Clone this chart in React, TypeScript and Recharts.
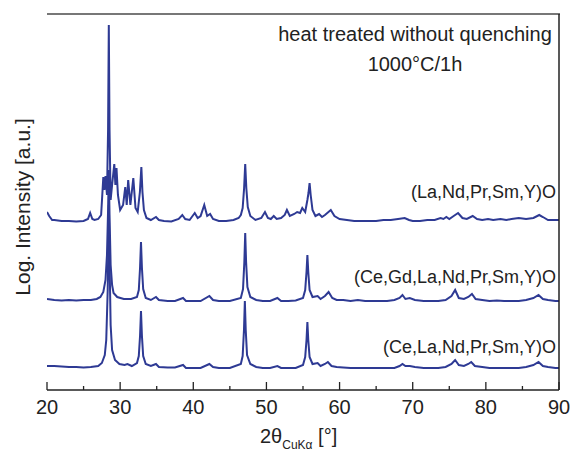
import React from 'react';
import { LineChart, Line, XAxis, YAxis } from 'recharts';

// 2θ (deg) vs. log intensity (arbitrary units, curves offset)
const seriesLaNdPrSmY: [number, number][] = [
  [20, 178], [20.3, 174], [20.7, 170], [21, 170], [22, 169], [23, 169], [24, 168.5], [25, 169], [25.6, 171], [25.9, 177], [26.2, 171],
  [26.5, 170], [27, 171], [27.4, 175], [27.7, 213], [27.85, 200], [28, 214], [28.2, 195], [28.35, 260], [28.45, 365], [28.55, 260],
  [28.7, 190], [28.9, 205], [29.2, 226], [29.35, 205], [29.5, 222], [29.7, 195], [30, 180], [30.4, 185], [30.7, 203], [30.9, 185],
  [31.1, 210], [31.4, 185], [31.8, 212], [32.1, 182], [32.4, 178], [32.7, 198], [32.9, 223], [33.05, 198], [33.25, 180], [33.6, 172],
  [34.2, 170], [34.9, 173], [35.3, 170], [36, 169], [37, 168.5], [38, 171], [38.5, 175], [38.9, 171], [39.5, 170], [40.2, 177],
  [40.6, 172], [41, 174], [41.5, 185], [41.9, 174], [42.3, 176], [42.7, 171], [43.5, 169], [44.5, 169], [45.5, 170], [46.2, 172],
  [46.5, 175], [46.75, 182], [46.95, 202], [47.1, 226], [47.25, 202], [47.45, 183], [47.8, 174], [48.5, 170], [49.3, 172], [49.8, 178],
  [50.2, 172], [50.6, 171], [51, 174], [51.4, 171], [52, 172], [52.5, 175], [52.8, 180], [53.2, 174], [53.8, 176], [54.2, 178],
  [54.6, 177], [54.9, 182], [55.3, 178], [55.6, 190], [55.75, 197], [55.9, 207], [56.05, 195], [56.3, 180], [56.7, 174], [57.2, 176],
  [57.6, 173], [58, 175], [58.8, 180], [59.3, 174], [60, 171], [61, 170], [62, 169], [63, 169], [64, 169], [65, 169],
  [66, 170], [67, 170], [68, 171], [68.9, 172], [69.5, 170], [70, 169], [71, 169], [72, 170], [73, 170], [73.8, 172],
  [74.2, 171], [74.6, 173], [75, 171], [75.6, 174], [76.2, 177], [76.8, 172], [77.4, 171], [78.2, 174], [78.8, 171], [79.5, 170],
  [80.3, 171], [81, 170], [82, 171], [82.8, 170], [83.5, 171], [84.5, 172], [85.5, 171], [86.5, 172], [87.3, 175], [87.8, 173],
  [88.5, 170], [89.3, 170], [90, 170],
];

const seriesCeGdLaNdPrSmY: [number, number][] = [
  [20, 91], [21, 90], [22, 89.5], [23, 90], [24, 89.5], [25, 90], [26, 90], [26.8, 91], [27.3, 93], [27.7, 98],
  [28.0, 110], [28.2, 135], [28.35, 180], [28.45, 220], [28.55, 175], [28.7, 125], [28.9, 105], [29.1, 97], [29.6, 93], [30.5, 91],
  [31.5, 91], [32.3, 93], [32.55, 100], [32.72, 122], [32.85, 148], [32.98, 122], [33.15, 101], [33.5, 92], [34.2, 90], [34.9, 93],
  [35.3, 90], [36.5, 89], [37.5, 89], [38.6, 92], [39, 89], [40, 89], [41, 89], [42.2, 94], [42.7, 90], [43.5, 89],
  [45, 89], [46.5, 92], [46.8, 101], [46.98, 128], [47.1, 157], [47.22, 128], [47.4, 103], [47.8, 93], [48.6, 90], [49.5, 89],
  [50.5, 89], [51.5, 92], [52, 89], [53, 89], [54, 89.5], [55.0, 92], [55.3, 100], [55.48, 118], [55.6, 135], [55.72, 118],
  [55.9, 100], [56.3, 93], [57, 94], [57.4, 91], [58, 94], [58.5, 98], [59, 92], [59.6, 90], [60.5, 90], [61.5, 89],
  [62.5, 90], [63.5, 89], [64.5, 89], [65.5, 89], [66.5, 89], [67.5, 90], [68.2, 92], [68.6, 95], [69, 91], [69.6, 92],
  [70.3, 90], [71.5, 89], [72.5, 89], [73.5, 89], [74.5, 90], [75.3, 94], [75.8, 100], [76.3, 92], [77, 91], [77.6, 93],
  [78.1, 96], [78.6, 91], [79.5, 90], [80.5, 89], [81.5, 89.5], [82.5, 89], [83.5, 89], [84.5, 89], [85.5, 90], [86.5, 92],
  [87.2, 95], [87.8, 91], [88.5, 90], [89.5, 89], [90, 89],
];

const seriesCeLaNdPrSmY: [number, number][] = [
  [20, 24], [21, 24], [22, 23.5], [23, 23], [24, 23], [25, 22.5], [26, 23], [27, 24], [27.5, 27], [27.9, 35],
  [28.1, 50], [28.3, 100], [28.45, 185], [28.55, 130], [28.7, 65], [28.9, 40], [29.3, 30], [29.9, 26], [30.6, 25], [31, 26],
  [31.6, 24], [32.3, 27], [32.55, 34], [32.72, 54], [32.85, 79], [32.98, 54], [33.15, 34], [33.5, 26], [34.2, 24], [34.9, 26],
  [35.3, 23], [36.5, 22.5], [37.5, 22.5], [38.6, 25], [39, 22], [40, 22], [41, 22], [42.2, 26], [42.7, 23], [43.5, 22],
  [45, 22], [46.5, 26], [46.75, 34], [46.93, 60], [47.05, 89], [47.17, 60], [47.35, 35], [47.8, 26], [48.6, 23], [49.5, 22],
  [50.5, 22], [51.5, 24], [52, 22], [53, 22], [54, 22], [55.0, 25], [55.3, 33], [55.48, 50], [55.6, 68], [55.72, 50],
  [55.9, 33], [56.3, 26], [57, 27], [57.4, 24], [58, 26], [58.4, 28], [58.9, 24], [59.6, 23], [60.5, 22.5], [61.5, 22],
  [62.5, 22], [63.5, 22], [64.5, 22], [65.5, 22], [66.5, 22], [67.5, 22], [68.2, 24], [68.6, 26], [69, 24], [69.6, 24],
  [70.3, 23], [71.5, 22], [72.5, 22], [73.5, 22], [74.5, 23], [75.3, 26], [75.8, 30], [76.3, 25], [77, 24], [77.6, 26],
  [78, 28], [78.5, 24], [79.5, 23], [80.5, 22], [81.5, 22], [82.5, 22], [83.5, 22], [84.5, 22], [85.5, 23], [86.5, 25],
  [87.2, 28], [87.8, 24], [88.5, 23], [89.5, 22], [90, 22],
];

const xTicks = [20, 25, 30, 35, 40, 45, 50, 55, 60, 65, 70, 75, 80, 85, 90];
const xLabelTicks = [20, 30, 40, 50, 60, 70, 80, 90];
const sampleNames = ['(La,Nd,Pr,Sm,Y)O', '(Ce,Gd,La,Nd,Pr,Sm,Y)O', '(Ce,La,Nd,Pr,Sm,Y)O'];

const toRows = (s: [number, number][]) => s.map(([x, y]) => ({ x, y }));
const dataTop = toRows(seriesLaNdPrSmY);
const dataMid = toRows(seriesCeGdLaNdPrSmY);
const dataBot = toRows(seriesCeLaNdPrSmY);

const FONT = '"Liberation Sans", Arial, Helvetica, sans-serif';
const LINE = '#2E3A94';
const INK = '#222';

const BottomTick = (props: any) => {
  const { x, y, payload } = props;
  const v = payload.value;
  const major = xLabelTicks.includes(v);
  return (
    <g>
      <line x1={x} x2={x} y1={y} y2={y - (major ? 8 : 4)} stroke={INK} strokeWidth={1.3} />
      {major && (
        <text x={x} y={y + 24} textAnchor="middle" fontSize={20} fontFamily={FONT} fill={INK}>
          {v}
        </text>
      )}
    </g>
  );
};

export default function App() {
  return (
    <div style={{ position: 'absolute', left: 0, top: 0, width: 571, height: 451, background: '#fff' }}>
      <LineChart width={571} height={451} margin={{ top: 14, right: 12, bottom: 0, left: 47 }}>
        <XAxis
          dataKey="x"
          type="number"
          domain={[20, 90]}
          ticks={xTicks}
          interval={0}
          height={61}
          tickSize={0}
          tickMargin={0}
          tickLine={false}
          tick={<BottomTick />}
          axisLine={{ stroke: INK, strokeWidth: 1.5 }}
          allowDataOverflow
        />
        <YAxis
          type="number"
          domain={[0, 376]}
          width={0}
          tick={false}
          tickLine={false}
          axisLine={{ stroke: INK, strokeWidth: 1.5 }}
          allowDataOverflow
        />
        <Line data={dataBot} dataKey="y" type="linear" stroke={LINE} strokeWidth={2} dot={false} isAnimationActive={false} />
        <Line data={dataMid} dataKey="y" type="linear" stroke={LINE} strokeWidth={2} dot={false} isAnimationActive={false} />
        <Line data={dataTop} dataKey="y" type="linear" stroke={LINE} strokeWidth={2} dot={false} isAnimationActive={false} />
      </LineChart>
      <svg
        width={571}
        height={451}
        style={{ position: 'absolute', left: 0, top: 0, pointerEvents: 'none' }}
        fontFamily={FONT}
        fill={INK}
      >
        <line x1={47} x2={560} y1={14} y2={14} stroke="#777" strokeWidth={2} />
        <line x1={559} x2={559} y1={14} y2={390} stroke={INK} strokeWidth={1.5} />
        <text x={415} y={41} textAnchor="middle" fontSize={20}>heat treated without quenching</text>
        <text x={415} y={71} textAnchor="middle" fontSize={20}>1000°C/1h</text>
        <text x={556} y={198} textAnchor="end" fontSize={18}>{sampleNames[0]}</text>
        <text x={556} y={283} textAnchor="end" fontSize={18}>{sampleNames[1]}</text>
        <text x={556} y={353} textAnchor="end" fontSize={18}>{sampleNames[2]}</text>
        <text x={30} y={207} textAnchor="middle" fontSize={21} transform="rotate(-90 30 207)">Log. Intensity [a.u.]</text>
        <text x={260} y={443} fontSize={20}>
          2θ
          <tspan fontSize={12} dy={6}>CuKα</tspan>
          <tspan dy={-6}> [°]</tspan>
        </text>
      </svg>
    </div>
  );
}
